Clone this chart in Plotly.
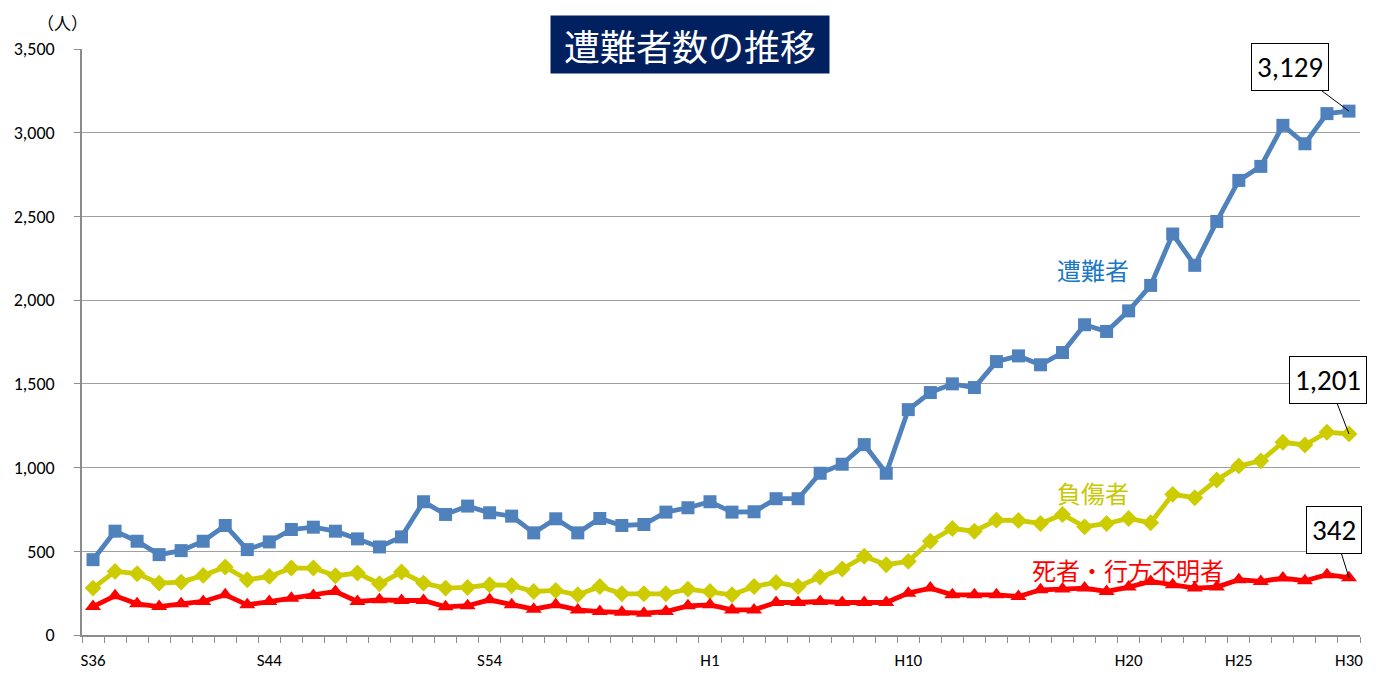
import plotly.graph_objects as go

years = [f"S{n}" for n in range(36, 64)] + [f"H{n}" for n in range(1, 31)]
tick_labels = ["S36", "S44", "S54", "H1", "H10", "H20", "H25", "H30"]

victims = [450, 620, 560, 480, 504, 560, 654, 510, 556, 630,
           644, 620, 574, 526, 586, 796, 720, 770, 730, 710,
           610, 694, 610, 696, 654, 660, 734, 760,
           796, 734, 736, 814, 814, 966, 1020, 1137, 966, 1346,
           1448, 1500, 1478, 1633, 1667, 1614, 1687, 1853, 1813, 1936,
           2088, 2395, 2208, 2470, 2715, 2799, 3044, 2934, 3114, 3129]
injured = [280, 380, 366, 310, 316, 356, 406, 330, 350, 400,
           400, 354, 370, 306, 376, 310, 280, 284, 300, 296,
           260, 266, 240, 290, 246, 246, 246, 274,
           260, 240, 290, 314, 290, 346, 394, 470, 420, 440,
           560, 636, 620, 686, 684, 666, 720, 646, 666, 696,
           670, 840, 820, 926, 1010, 1040, 1151, 1135, 1211, 1201]
dead = [170, 234, 186, 170, 186, 200, 240, 180, 200, 220,
        236, 260, 200, 210, 206, 206, 168, 175, 210, 180,
        154, 180, 150, 140, 136, 130, 140, 174,
        180, 150, 150, 194, 194, 200, 194, 194, 194, 250,
        280, 240, 240, 240, 230, 270, 274, 280, 260, 286,
        320, 300, 280, 286, 330, 320, 340, 324, 360, 342]

x = list(range(len(years)))
tick_idx = [years.index(t) for t in tick_labels]

BLUE = "#4F81BD"
YEL = "#CCCC00"
RED = "#FF0000"
NUMFONT = "Calibri, Carlito, Lato, sans-serif"
JPFONT = "Noto Sans CJK JP"

fig = go.Figure()
fig.add_trace(go.Scatter(x=x, y=victims, mode="lines+markers", name="遭難者",
                         line=dict(color=BLUE, width=4.8),
                         marker=dict(symbol="square", size=13, color=BLUE)))
fig.add_trace(go.Scatter(x=x, y=injured, mode="lines+markers", name="負傷者",
                         line=dict(color=YEL, width=4.8),
                         marker=dict(symbol="diamond", size=13, color=YEL)))
fig.add_trace(go.Scatter(x=x, y=dead, mode="lines+markers", name="死者・行方不明者",
                         line=dict(color=RED, width=4.8),
                         marker=dict(symbol="triangle-up", size=14, color=RED)))

last = len(years) - 1
for series, ax, ay in [(victims, -59, -44), (injured, -21, -54), (dead, -15, -48)]:
    fig.add_annotation(x=last, y=series[last], text=f"{series[last]:,}",
                       showarrow=True, arrowhead=0, arrowwidth=1, arrowcolor="black",
                       ax=ax, ay=ay, standoff=0,
                       font=dict(family=NUMFONT, size=29, color="black"),
                       bgcolor="white", bordercolor="black", borderwidth=1, borderpad=5)

fig.add_annotation(x=45.4, y=2182, text="遭難者", showarrow=False,
                   font=dict(family=JPFONT, size=24, color="#1C78C6"))
fig.add_annotation(x=45.4, y=850, text="負傷者", showarrow=False,
                   font=dict(family=JPFONT, size=24, color="#C8C800"))
fig.add_annotation(x=46.95, y=390, text="死者・行方不明者", showarrow=False,
                   font=dict(family=JPFONT, size=24, color=RED))

fig.add_annotation(xref="paper", yref="paper", x=0.4757, y=1.0077,
                   xanchor="center", yanchor="middle", text="遭難者数の推移",
                   showarrow=False, bgcolor="#002060", width=268, height=47, borderpad=5,
                   font=dict(family=JPFONT, size=36, color="white"))
fig.add_annotation(xref="paper", yref="paper", x=-0.0156, y=1.046,
                   xanchor="center", yanchor="middle", text="（人）", showarrow=False,
                   font=dict(family=JPFONT, size=17, color="black"))

fig.update_layout(
    width=1384, height=673,
    margin=dict(l=82, r=24, t=49, b=38),
    paper_bgcolor="white", plot_bgcolor="white",
    showlegend=False,
    font=dict(family=NUMFONT, size=18, color="black"),
)
fig.update_xaxes(range=[-0.5, last + 0.5], tickmode="array", tickvals=tick_idx,
                 ticktext=tick_labels, ticks="outside", ticklen=6, tickcolor="rgba(0,0,0,0)",
                 ticklabelstandoff=3, automargin=False,
                 showline=True, linecolor="#8C8C8C", linewidth=1.5, showgrid=False,
                 zeroline=False,
                 minor=dict(ticks="outside", ticklen=6, tickcolor="#8C8C8C",
                            tickmode="linear", tick0=-0.5, dtick=1, showgrid=False),
                 tickfont=dict(family=NUMFONT, size=17))
fig.update_yaxes(range=[0, 3500], tickmode="linear", tick0=0, dtick=500,
                 tickformat=",d", ticks="outside", ticklen=6, tickcolor="#8C8C8C",
                 ticklabelstandoff=16, automargin=False,
                 showline=True, linecolor="#8C8C8C", linewidth=1.5,
                 showgrid=True, gridcolor="#A0A0A0", gridwidth=1.2, zeroline=False,
                 tickfont=dict(family=NUMFONT, size=18))

fig.write_html("out.html", config={"displayModeBar": False},
               post_script="document.body.style.margin='0';document.body.style.overflow='hidden';")
